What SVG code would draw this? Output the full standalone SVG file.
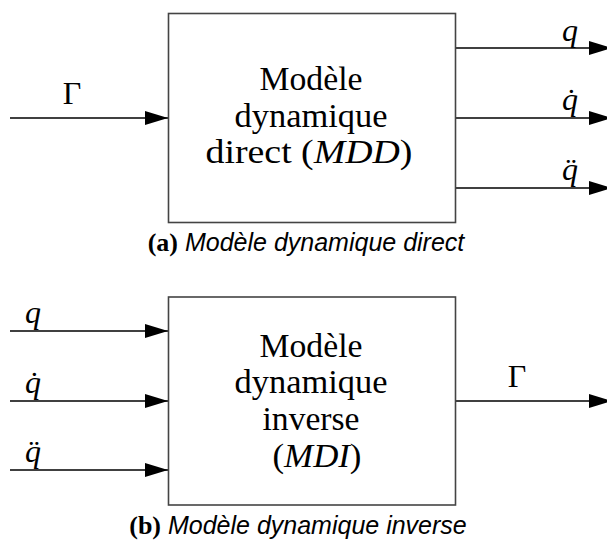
<svg xmlns="http://www.w3.org/2000/svg" width="607" height="543" viewBox="0 0 607 543">
<defs>
<marker id="ah" markerUnits="userSpaceOnUse" markerWidth="24" markerHeight="15" refX="23" refY="7" orient="auto">
<path d="M0,0 L23,7 L0,14 Z" fill="#000"/>
</marker>
<style>
.box{fill:#fff;stroke:#444;stroke-width:1.6}
.wire{stroke:#000;stroke-width:1.6;fill:none;marker-end:url(#ah)}
.bt{font-family:"Liberation Serif","Times New Roman",serif;font-size:33px;fill:#000;text-anchor:middle}
.lab{font-family:"Liberation Serif","Times New Roman",serif;font-size:32px;fill:#000;text-anchor:middle}
.it{font-style:italic}
.cap{font-family:"Liberation Sans",Arial,sans-serif;font-size:25px;font-style:italic;fill:#000;text-anchor:middle}
.capb{font-family:"Liberation Serif","Times New Roman",serif;font-style:normal;font-weight:bold;font-size:26px}
</style>
</defs>
<rect width="607" height="543" fill="#fff"/>
<g id="connectors">
<line class="wire" x1="10" y1="118" x2="168" y2="118"/>
<line class="wire" x1="455" y1="48" x2="612" y2="48"/>
<line class="wire" x1="455" y1="118" x2="612" y2="118"/>
<line class="wire" x1="455" y1="188" x2="612" y2="188"/>
<line class="wire" x1="10" y1="331" x2="168" y2="331"/>
<line class="wire" x1="10" y1="401" x2="168" y2="401"/>
<line class="wire" x1="10" y1="470" x2="168" y2="470"/>
<line class="wire" x1="455" y1="401" x2="612" y2="401"/>
</g>
<g id="mdd">
<rect class="box" x="168.5" y="13.5" width="287" height="209"/>
<text class="bt" x="311" y="90" textLength="103" lengthAdjust="spacingAndGlyphs">Modèle</text>
<text class="bt" x="311" y="127" textLength="153" lengthAdjust="spacingAndGlyphs">dynamique</text>
<text class="bt" x="309" y="163" textLength="207" lengthAdjust="spacingAndGlyphs">direct (<tspan class="it">MDD</tspan>)</text>
</g>
<g id="mdi">
<rect class="box" x="168.5" y="297" width="287" height="208"/>
<text class="bt" x="311" y="357" textLength="103" lengthAdjust="spacingAndGlyphs">Modèle</text>
<text class="bt" x="311" y="393" textLength="153" lengthAdjust="spacingAndGlyphs">dynamique</text>
<text class="bt" x="311" y="430" textLength="97" lengthAdjust="spacingAndGlyphs">inverse</text>
<text class="bt" x="317" y="467" textLength="89" lengthAdjust="spacingAndGlyphs">(<tspan class="it">MDI</tspan>)</text>
</g>
<g id="labels">
<text class="lab" x="72" y="104">Γ</text>
<text class="lab it" x="570" y="41">q</text>
<text class="lab it" x="570" y="110">q̇</text>
<text class="lab it" x="570" y="180">q̈</text>
<text class="lab it" x="33" y="323">q</text>
<text class="lab it" x="33" y="393">q̇</text>
<text class="lab it" x="33" y="462">q̈</text>
<text class="lab" x="517" y="387">Γ</text>
</g>
<g id="captions">
<text class="cap" x="306" y="251"><tspan class="capb">(a)</tspan> Modèle dynamique direct</text>
<text class="cap" x="298" y="534"><tspan class="capb">(b)</tspan> Modèle dynamique inverse</text>
</g>
</svg>
